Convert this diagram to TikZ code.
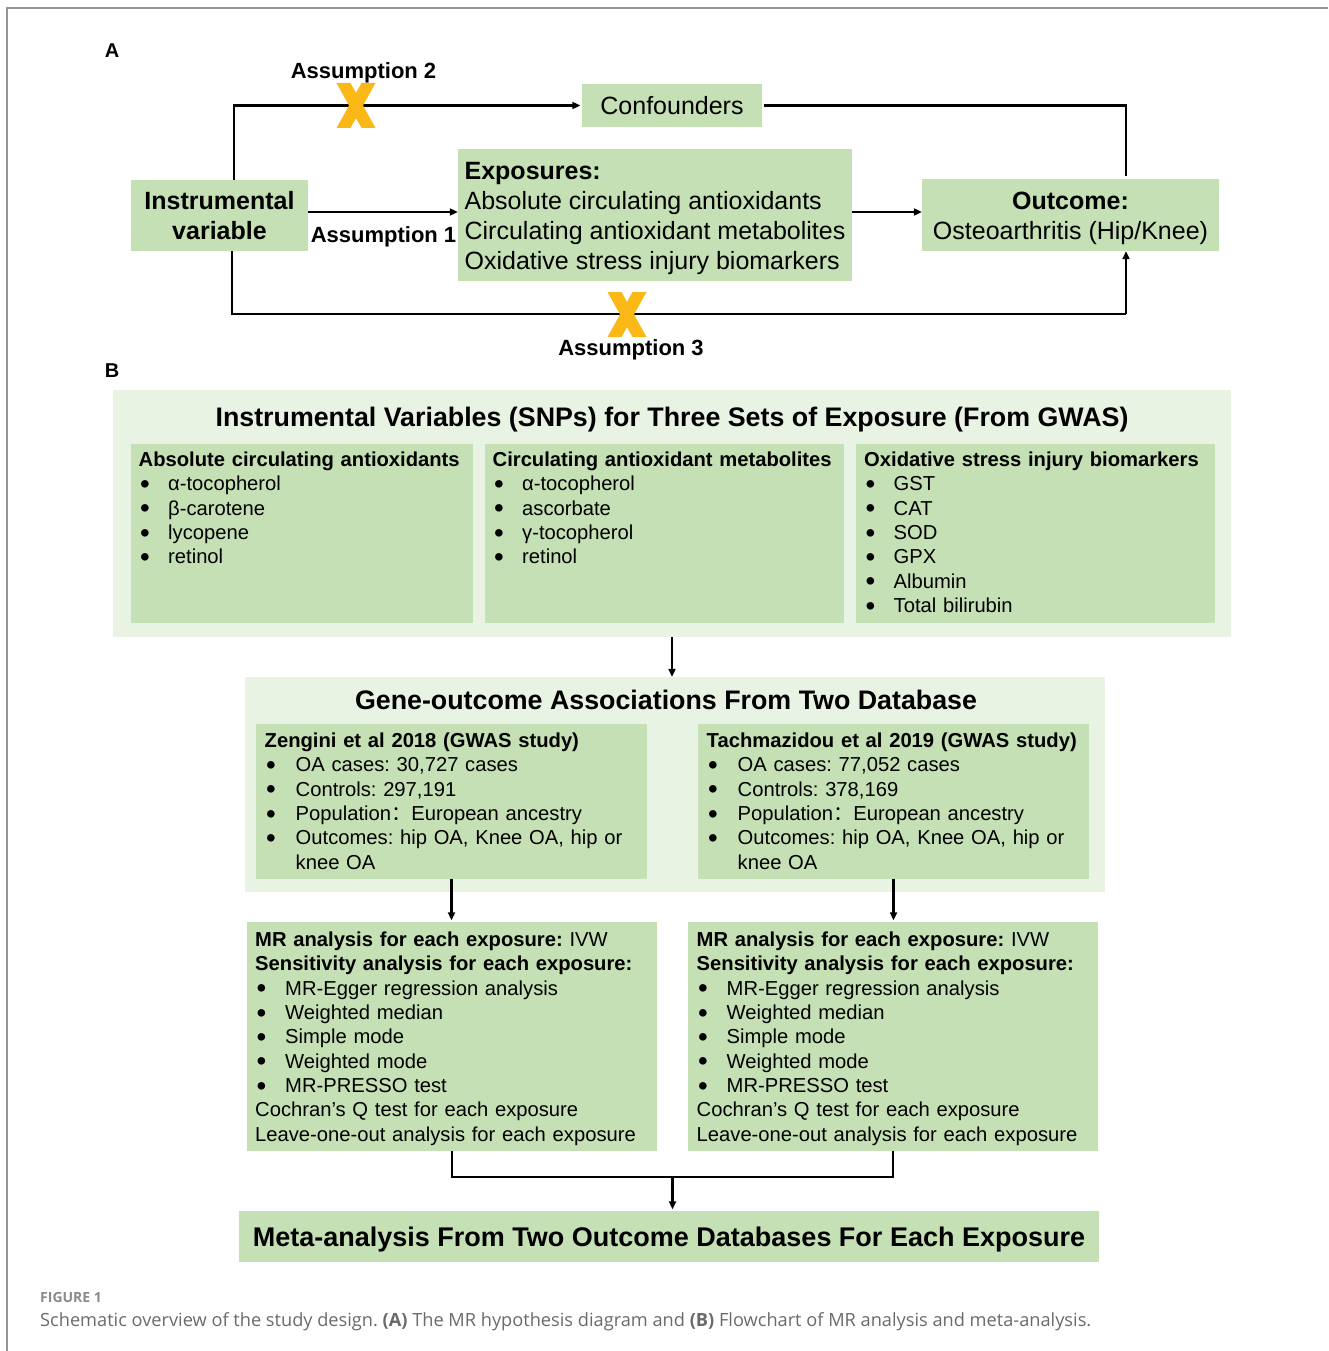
\documentclass[tikz,border=0pt]{standalone}
\usepackage{fontspec}
\usepackage{graphicx}
\setmainfont{Liberation Sans}
\newfontfamily\capfont{Open Sans}
\newfontfamily\cjk{Noto Sans CJK SC}
\usetikzlibrary{arrows.meta}
\frenchspacing
\definecolor{boxg}{HTML}{C5E0B4}
\definecolor{paleg}{HTML}{E9F3E3}
\definecolor{xyel}{HTML}{FAB817}
\definecolor{capgray}{HTML}{6A6A6A}
\definecolor{figgray}{HTML}{8A8A8A}
\definecolor{framegray}{HTML}{959595}
\newcommand\bul[1]{\makebox[#1][l]{\hspace{1.5pt}\raisebox{-2.6pt}{\scalebox{1.37}{\textbullet}}}}
\newcommand\cs{\rule[-6pt]{0pt}{30pt}}
\newcommand\mrtext[1]{\strut\textbf{MR analysis for each exposure:} IVW\\
\strut\textbf{Sensitivity analysis for each exposure:}\\
\strut\bul{#1}MR-Egger regression analysis\\
\strut\bul{#1}Weighted median\\
\strut\bul{#1}Simple mode\\
\strut\bul{#1}Weighted mode\\
\strut\bul{#1}MR-PRESSO test\\
\strut Cochran’s Q test for each exposure\\
\strut Leave-one-out analysis for each exposure}
\tikzset{ycross/.pic={
  \fill[xyel] (-19.5,-22.5) -- (-5.5,-22.5) -- (19.5,22.5) -- (5.5,22.5) -- cycle;
  \fill[xyel] (5.5,-22.5) -- (19.5,-22.5) -- (-5.5,22.5) -- (-19.5,22.5) -- cycle;}}
\begin{document}
\begin{tikzpicture}[x=1pt,y=-1pt,
  gbox/.style={fill=boxg, inner sep=0pt},
  pbox/.style={fill=paleg, inner sep=0pt},
  lst/.style={anchor=north west, inner sep=0pt, align=left, text width=420pt, font=\fontsize{20.2}{24.35}\selectfont},
  ln/.style={line width=2.2pt, black},
  arr/.style={ln, -{Triangle[length=8pt,width=7pt]}},
  lbl/.style={anchor=base, inner sep=0pt, font=\bfseries\fontsize{22}{22}\selectfont},
  ttl/.style={anchor=base, inner sep=0pt, font=\bfseries\fontsize{26.8}{30}\selectfont}]
\useasboundingbox (0,0) rectangle (1328,1351);
\draw[framegray, line width=2pt] (1328,8) -- (7,8) -- (7,1351);

% ---------- Part A ----------
\node[anchor=base, inner sep=0pt, font=\bfseries\fontsize{20}{20}\selectfont] (la) at (112,58) {A};
\node[gbox, minimum width=177pt, minimum height=71pt, align=center, font=\bfseries\fontsize{25}{30}\selectfont] (iv) at (219.5,215.5) {\cs Instrumental\\\cs variable};
\node[gbox, minimum width=180pt, minimum height=43pt, font=\fontsize{25}{30}\selectfont] (conf) at (672,105.5) {\cs Confounders};
\node[gbox, minimum width=394pt, minimum height=132pt, align=left, font=\fontsize{25}{30}\selectfont] (expo) at (655,215) {\cs\textbf{Exposures:}\\\cs Absolute circulating antioxidants\\\cs Circulating antioxidant metabolites\\\cs Oxidative stress injury biomarkers};
\node[gbox, minimum width=297pt, minimum height=72pt, align=center, font=\fontsize{25}{30}\selectfont] (out) at (1070.5,215) {\cs\textbf{Outcome:}\\\cs Osteoarthritis (Hip/Knee)};

\coordinate (b2) at (1126,314);
\draw[arr] ([yshift=3.5pt]iv.east) -- ([yshift=3pt]expo.west);
\draw[arr, shorten >=1.5pt] ([xshift=14.5pt]iv.north) |- (conf.west);
\draw[ln, shorten <=2pt] (conf.east) -| ([xshift=55.5pt,yshift=3pt]out.north);
\draw[ln] ([xshift=12.5pt]iv.south) |- (b2);
\draw[arr] (b2) -- ([xshift=55.5pt]out.south);
\draw[arr] ([yshift=3pt]expo.east) -- ([yshift=3pt]out.west);

\pic at (356,105.5) {ycross};
\pic at (627,314.5) {ycross};
\node[lbl] (as2) at (363.5,79) {Assumption 2};
\node[lbl] (as1) at (383.5,242) {Assumption 1};
\node[lbl] (as3) at (631,355) {Assumption 3};

% ---------- Part B ----------
\node[anchor=base, inner sep=0pt, font=\bfseries\fontsize{20}{20}\selectfont] (lb) at (112,377) {B};
\node[pbox, minimum width=1118pt, minimum height=247pt] (o1) at (672,513.5) {};
\node[ttl] (t1) at (672,426.5) {Instrumental Variables (SNPs) for Three Sets of Exposure (From GWAS)};
\node[gbox, minimum width=342pt, minimum height=179pt] (s1) at (302,533.5) {};
\node[gbox, minimum width=359pt, minimum height=179pt] (s2) at (664.5,533.5) {};
\node[gbox, minimum width=359pt, minimum height=179pt] (s3) at (1035.5,533.5) {};
\node[lst] (s1t) at (138.5,449.2) {\strut\textbf{Absolute circulating antioxidants}\\
\strut\bul{29.5pt}α-tocopherol\\
\strut\bul{29.5pt}β-carotene\\
\strut\bul{29.5pt}lycopene\\
\strut\bul{29.5pt}retinol};
\node[lst] (s2t) at (492.5,449.2) {\strut\textbf{Circulating antioxidant metabolites}\\
\strut\bul{29.5pt}α-tocopherol\\
\strut\bul{29.5pt}ascorbate\\
\strut\bul{29.5pt}γ-tocopherol\\
\strut\bul{29.5pt}retinol};
\node[lst] (s3t) at (864,449.2) {\strut\textbf{Oxidative stress injury biomarkers}\\
\strut\bul{29.5pt}GST\\
\strut\bul{29.5pt}CAT\\
\strut\bul{29.5pt}SOD\\
\strut\bul{29.5pt}GPX\\
\strut\bul{29.5pt}Albumin\\
\strut\bul{29.5pt}Total bilirubin};

\node[pbox, minimum width=860pt, minimum height=215pt] (o2) at (675,784.5) {};
\node[ttl] (t2) at (666,709.5) {Gene-outcome Associations From Two Database};
\node[gbox, minimum width=391pt, minimum height=155pt] (z1) at (451.5,801.5) {};
\node[gbox, minimum width=391pt, minimum height=155pt] (z2) at (893.5,801.5) {};
\node[lst] (z1t) at (264.5,730.1) {\strut\textbf{Zengini et al 2018 (GWAS study)}\\
\strut\bul{31pt}OA cases: 30,727 cases\\
\strut\bul{31pt}Controls: 297,191\\
\strut\bul{31pt}Population{\cjk ：}European ancestry\\
\strut\bul{31pt}Outcomes: hip OA, Knee OA, hip or\\
\strut\hspace*{31pt}knee OA};
\node[lst] (z2t) at (706.5,730.1) {\strut\textbf{Tachmazidou et al 2019 (GWAS study)}\\
\strut\bul{31pt}OA cases: 77,052 cases\\
\strut\bul{31pt}Controls: 378,169\\
\strut\bul{31pt}Population{\cjk ：}European ancestry\\
\strut\bul{31pt}Outcomes: hip OA, Knee OA, hip or\\
\strut\hspace*{31pt}knee OA};

\node[gbox, minimum width=410pt, minimum height=229pt] (m1) at (452,1036.5) {};
\node[gbox, minimum width=410pt, minimum height=229pt] (m2) at (893,1036.5) {};
\node[lst] (m1t) at (255,929.1) {\mrtext{30pt}};
\node[lst] (m2t) at (696.5,929.1) {\mrtext{30pt}};

\node[gbox, minimum width=860pt, minimum height=51pt] (fin) at (669,1236.5) {};
\node[anchor=base, inner sep=0pt, font=\bfseries\fontsize{27}{30}\selectfont] (fint) at (669,1246.5) {Meta-analysis From Two Outcome Databases For Each Exposure};

\coordinate (mj) at (672.5,1177);
\draw[arr] (o1.south) -- (o1.south |- o2.north);
\draw[arr, shorten >=1.5pt] (z1.south) -- (z1.south |- m1.north);
\draw[arr, shorten >=1.5pt] (z2.south) -- (z2.south |- m2.north);
\draw[ln] (m1.south) |- (mj) -| (m2.south);
\draw[arr, shorten >=1.5pt] (mj) -- (mj |- fin.north);

% ---------- caption ----------
\node[anchor=base west, inner sep=0pt, text=figgray, font=\capfont\bfseries\fontsize{14}{14}\selectfont] (fig) at (40,1302) {FIGURE 1};
\node[anchor=base west, inner sep=0pt, text=capgray, font=\capfont\fontsize{18}{18}\selectfont] (cap) at (40,1326.5) {\resizebox{1051pt}{!}{Schematic overview of the study design. \textbf{(A)} The MR hypothesis diagram and \textbf{(B)} Flowchart of MR analysis and meta-analysis.}};
\end{tikzpicture}
\end{document}
